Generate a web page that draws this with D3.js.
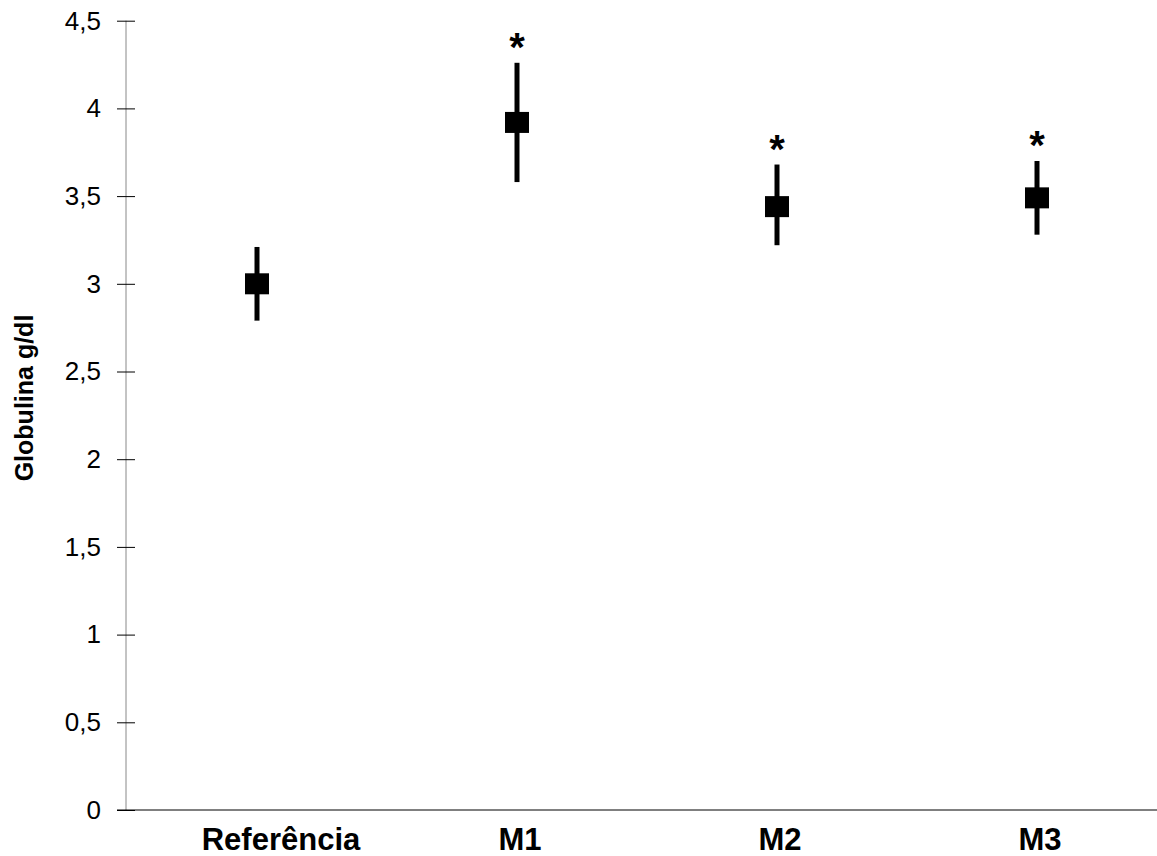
<!DOCTYPE html>
<html>
<head>
<meta charset="utf-8">
<script src="https://cdn.jsdelivr.net/npm/d3@7"></script>
<style>
  body { margin: 0; background: #fff; }
  text { font-family: Arial, "Liberation Sans", sans-serif; }
</style>
</head>
<body>
<div class="container"></div>
<script>
var categories = ["Referência", "M1", "M2", "M3"];
var means = [3.00, 3.92, 3.44, 3.49];
var lows = [2.79, 3.58, 3.22, 3.28];
var highs = [3.21, 4.26, 3.68, 3.70];
var starred = [false, true, true, true];
var yTicks = [0, 0.5, 1, 1.5, 2, 2.5, 3, 3.5, 4, 4.5];
var yTickLabels = ["0", "0,5", "1", "1,5", "2", "2,5", "3", "3,5", "4", "4,5"];

var width = 1157,
    height = 856;

var svg = d3.select(".container")
    .append("svg")
    .attr("width", width)
    .attr("height", height);

var x = d3.scaleBand()
    .domain(categories)
    .range([127, 1167])
    .padding(0);

var y = d3.scaleLinear()
    .domain([0, 4.5])
    .range([810, 20.7]);

// y axis
var yAxis = svg.append("g")
    .attr("transform", "translate(126,0)")
    .call(d3.axisLeft(y)
        .tickValues(yTicks)
        .tickFormat(function (d, i) { return yTickLabels[i]; })
        .tickSize(9)
        .tickPadding(16));
yAxis.select(".domain").attr("stroke", "#888").attr("d", "M0," + y(0) + "V" + y(4.5));
yAxis.selectAll(".tick line").attr("x1", -9).attr("x2", 9).attr("stroke", "#000");
yAxis.selectAll(".tick text")
    .style("font-size", "26px")
    .attr("fill", "#000");

// x axis
var xAxis = svg.append("g")
    .attr("transform", "translate(0," + y(0) + ")")
    .call(d3.axisBottom(x).tickSize(0).tickPadding(18));
xAxis.select(".domain").attr("stroke", "#000").attr("d", "M117,0H1157");
xAxis.selectAll(".tick text")
    .style("font-size", "31px")
    .style("font-weight", "bold")
    .attr("fill", "#000")
    .attr("dx", function (d, i) { return i === 0 ? 24 : 3; });

// y label
svg.append("text")
    .attr("transform", "translate(33,398) rotate(-90)")
    .attr("text-anchor", "middle")
    .style("font-size", "25px")
    .style("font-weight", "bold")
    .text("Globulina g/dl");

var idx = d3.range(categories.length);
var cx = function (i) { return x(categories[i]) + x.bandwidth() / 2; };

// error bars
svg.append("g")
    .selectAll("line")
    .data(idx)
    .enter()
    .append("line")
    .attr("x1", cx)
    .attr("x2", cx)
    .attr("y1", function (i) { return y(highs[i]); })
    .attr("y2", function (i) { return y(lows[i]); })
    .attr("stroke", "#000")
    .attr("stroke-width", 5);

// markers
svg.append("g")
    .selectAll("rect")
    .data(idx)
    .enter()
    .append("rect")
    .attr("x", function (i) { return cx(i) - 12; })
    .attr("y", function (i) { return y(means[i]) - 10.5; })
    .attr("width", 24)
    .attr("height", 21)
    .attr("fill", "#000");

// significance
svg.append("g")
    .selectAll("text")
    .data(idx.filter(function (i) { return starred[i]; }))
    .enter()
    .append("text")
    .attr("x", cx)
    .attr("y", function (i) { return y(highs[i]) - 2; })
    .attr("text-anchor", "middle")
    .style("font-size", "40px")
    .style("font-weight", "bold")
    .text("*");
</script>
</body>
</html>
